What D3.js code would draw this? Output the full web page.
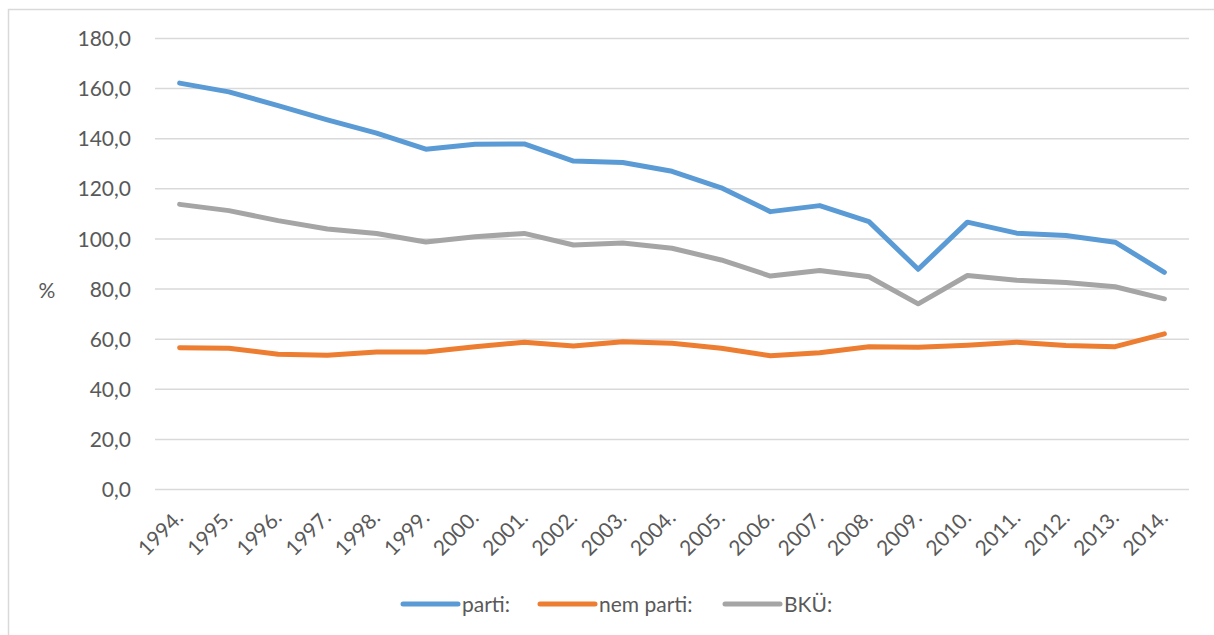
<!DOCTYPE html>
<html>
<head>
<meta charset="utf-8">
<script src="https://cdn.jsdelivr.net/npm/d3@7"></script>
<style>
  body { margin: 0; background: #fff; }
  svg { display: block; font-family: Lato, "Open Sans", sans-serif; }
</style>
</head>
<body>
<svg width="1214" height="635"></svg>
<script>
// évek
const years = ["1994.", "1995.", "1996.", "1997.", "1998.", "1999.", "2000.", "2001.", "2002.", "2003.",
  "2004.", "2005.", "2006.", "2007.", "2008.", "2009.", "2010.", "2011.", "2012.", "2013.", "2014."];

const parti = [162.2, 158.7, 153.2, 147.5, 142.2, 135.8, 137.8, 137.9, 131.1, 130.5,
  127.0, 120.4, 110.9, 113.3, 106.9, 87.9, 106.7, 102.3, 101.4, 98.7, 86.7];

const nemParti = [56.6, 56.4, 54.0, 53.6, 54.9, 54.9, 57.0, 58.8, 57.3, 59.0,
  58.4, 56.4, 53.4, 54.6, 57.0, 56.8, 57.6, 58.8, 57.5, 57.0, 62.1];

const bku = [113.8, 111.3, 107.3, 104.0, 102.2, 98.8, 100.9, 102.2, 97.6, 98.4,
  96.3, 91.6, 85.2, 87.4, 84.9, 74.1, 85.4, 83.5, 82.6, 80.9, 76.1];

const yTicks = [0, 20, 40, 60, 80, 100, 120, 140, 160, 180];

const seriesNames = ["parti:", "nem parti:", "BKÜ:"];
const seriesColors = ["#5B9BD5", "#ED7D31", "#A5A5A5"];
const seriesData = [parti, nemParti, bku];

const svg = d3.select("svg");
const textColor = "#595959";
const fontSize = "21px";

// keret
svg.append("path")
  .attr("d", "M8.5,635 V9.5 H1214")
  .attr("fill", "none")
  .attr("stroke", "#D9D9D9")
  .attr("stroke-width", 1.5);

const x = d3.scaleBand()
  .domain(years)
  .range([155, 1189]);

const y = d3.scaleLinear()
  .domain([0, 180])
  .range([489.5, 38.5]);

// rácsvonalak
svg.append("g")
  .selectAll("line")
  .data(yTicks)
  .join("line")
  .attr("x1", 155)
  .attr("x2", 1189)
  .attr("y1", d => y(d))
  .attr("y2", d => y(d))
  .attr("stroke", "#D9D9D9")
  .attr("stroke-width", 1.5);

// y tengely feliratai
svg.append("g")
  .selectAll("text")
  .data(yTicks)
  .join("text")
  .attr("x", 131)
  .attr("y", d => y(d))
  .attr("dy", "0.36em")
  .attr("text-anchor", "end")
  .attr("fill", textColor)
  .style("font-size", fontSize)
  .text(d => d3.format(".1f")(d).replace(".", ","));

svg.append("text")
  .attr("x", 47)
  .attr("y", 290)
  .attr("dy", "0.36em")
  .attr("text-anchor", "middle")
  .attr("fill", textColor)
  .style("font-size", fontSize)
  .text("%");

// x tengely feliratai
svg.append("g")
  .selectAll("text")
  .data(years)
  .join("text")
  .attr("transform", d => `translate(${x(d) + x.bandwidth() / 2 + 5},${519}) rotate(-45)`)
  .attr("text-anchor", "end")
  .attr("fill", textColor)
  .style("font-size", fontSize)
  .text(d => d);

// vonalak
const line = d3.line()
  .x((d, i) => x(years[i]) + x.bandwidth() / 2)
  .y(d => y(d));

seriesData.forEach((data, k) => {
  svg.append("path")
    .attr("d", line(data))
    .attr("fill", "none")
    .attr("stroke", seriesColors[k])
    .attr("stroke-width", 5)
    .attr("stroke-linejoin", "round")
    .attr("stroke-linecap", "round");
});

// jelmagyarázat
const legendX = [403, 540, 725];
const legend = svg.append("g")
  .selectAll("g")
  .data(seriesNames)
  .join("g")
  .attr("transform", (d, i) => `translate(${legendX[i]},604)`);

legend.append("line")
  .attr("x1", 0)
  .attr("x2", 55)
  .attr("stroke", (d, i) => seriesColors[i])
  .attr("stroke-width", 5)
  .attr("stroke-linecap", "round");

legend.append("text")
  .attr("x", 59)
  .attr("dy", "0.36em")
  .attr("fill", textColor)
  .style("font-size", fontSize)
  .text(d => d);
</script>
</body>
</html>
